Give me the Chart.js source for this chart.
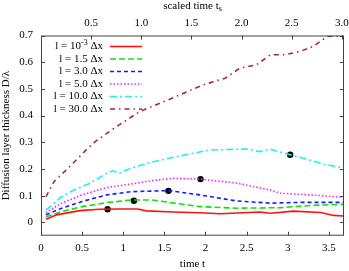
<!DOCTYPE html>
<html>
<head>
<meta charset="utf-8">
<script src="https://cdn.jsdelivr.net/npm/chart.js@4.4.0/dist/chart.umd.min.js"></script>
<style>
  html, body { margin: 0; padding: 0; background: #fff; }
  #wrap { width: 349px; height: 271px; }
</style>
</head>
<body>
<div id="wrap"><canvas id="chart"></canvas></div>
<script>
// values
const redT = [0.06, 0.19, 0.47, 0.71, 0.95, 1.18, 1.28, 1.61, 1.93, 2.18, 2.66, 2.79, 3.07, 3.40, 3.56, 3.68];
const redD = [0.012, 0.028, 0.044, 0.049, 0.050, 0.050, 0.043, 0.039, 0.036, 0.032, 0.039, 0.034, 0.042, 0.037, 0.026, 0.024];

const greenT = [0.06, 0.25, 0.5, 0.8, 1.1, 1.35, 1.6, 1.93, 2.38, 2.91, 3.27, 3.68];
const greenD = [0.021, 0.040, 0.059, 0.074, 0.084, 0.084, 0.073, 0.059, 0.053, 0.055, 0.063, 0.068];

const blueT = [0.06, 0.25, 0.5, 0.8, 1.1, 1.55, 1.93, 2.38, 2.79, 3.19, 3.68];
const blueD = [0.028, 0.053, 0.078, 0.103, 0.115, 0.119, 0.103, 0.080, 0.072, 0.075, 0.075];

const magentaT = [0.06, 0.25, 0.5, 0.8, 1.1, 1.35, 1.6, 1.94, 2.38, 2.79, 2.91, 3.27, 3.68];
const magentaD = [0.036, 0.072, 0.103, 0.130, 0.144, 0.156, 0.165, 0.162, 0.147, 0.121, 0.109, 0.103, 0.094];

const cyanT = [0.06, 0.25, 0.4, 0.6, 0.8, 0.87, 0.95, 1.1, 1.3, 1.6, 2.05, 2.5, 2.66, 2.79, 3.03, 3.19, 3.44, 3.68];
const cyanD = [0.046, 0.096, 0.121, 0.147, 0.184, 0.193, 0.184, 0.203, 0.222, 0.243, 0.271, 0.275, 0.265, 0.274, 0.253, 0.240, 0.218, 0.203];

const brownT = [0.06, 0.16, 0.31, 0.45, 0.56, 0.67, 0.92, 1.20, 1.57, 1.97, 2.24, 2.42, 2.62, 2.79, 2.97, 3.15, 3.31, 3.48, 3.68];
const brownD = [0.096, 0.153, 0.197, 0.240, 0.275, 0.305, 0.359, 0.415, 0.462, 0.515, 0.540, 0.578, 0.590, 0.628, 0.628, 0.640, 0.659, 0.696, 0.700];

const markerT = [0.81, 1.13, 1.55, 1.94, 3.03];
const markerD = [0.049, 0.081, 0.118, 0.162, 0.253];

const timeTicks = [0, 0.5, 1, 1.5, 2, 2.5, 3, 3.5];
const scaledTicks = [0.5, 1.0, 1.5, 2.0, 2.5, 3.0];
const yTicks = [0, 0.1, 0.2, 0.3, 0.4, 0.5, 0.6, 0.7];

// legend: [base, superscript, rest]
const seriesLabels = [
  ["l = 10", "-3", " \u0394x"],
  ["l = 1.5 \u0394x", "", ""],
  ["l = 3.0 \u0394x", "", ""],
  ["l = 5.0 \u0394x", "", ""],
  ["l = 10.0 \u0394x", "", ""],
  ["l = 30.0 \u0394x", "", ""]
];

const FONT = "Liberation Serif";

function pts(t, d) {
  return t.map((v, i) => ({ x: v, y: d[i] }));
}

function line(label, t, d, color, dash) {
  return {
    label: label,
    data: pts(t, d),
    borderColor: color,
    backgroundColor: color,
    borderWidth: 1.6,
    borderDash: dash,
    pointRadius: 0,
    tension: 0,
    fill: false
  };
}

const datasets = [
  line("red", redT, redD, "#ff1010", []),
  line("green", greenT, greenD, "#10e010", [6, 3]),
  line("blue", blueT, blueD, "#1818ff", [4, 3]),
  line("magenta", magentaT, magentaD, "#ff20ff", [1.5, 2]),
  line("cyan", cyanT, cyanD, "#20f0f0", [7, 3, 2, 3]),
  line("brown", brownT, brownD, "#a52a2a", [5, 4, 1.5, 4]),
  {
    label: "markers",
    data: pts(markerT, markerD),
    showLine: false,
    pointRadius: 3.2,
    pointBackgroundColor: "#000",
    pointBorderColor: "#000",
    borderWidth: 0
  }
];

function fixTicks(list) {
  return function (scale) {
    scale.ticks = list.map(v => ({ value: v }));
  };
}

const framePlugin = {
  id: "frame",
  afterDraw(chart) {
    const ctx = chart.ctx;
    const a = chart.chartArea;
    const sx = chart.scales.x, sx2 = chart.scales.x2, sy = chart.scales.y;
    ctx.save();
    ctx.strokeStyle = "#444";
    ctx.lineWidth = 1;
    ctx.strokeRect(a.left + 0.5, a.top + 0.5, a.right - a.left - 1, a.bottom - a.top - 1);
    ctx.beginPath();
    const L = 4;
    timeTicks.forEach(v => {
      const px = Math.round(sx.getPixelForValue(v)) + 0.5;
      ctx.moveTo(px, a.bottom); ctx.lineTo(px, a.bottom - L);
    });
    scaledTicks.forEach(v => {
      const px = Math.round(sx2.getPixelForValue(v)) + 0.5;
      ctx.moveTo(px, a.top); ctx.lineTo(px, a.top + L);
    });
    yTicks.forEach(v => {
      const py = Math.round(sy.getPixelForValue(v)) + 0.5;
      ctx.moveTo(a.left, py); ctx.lineTo(a.left + L, py);
      ctx.moveTo(a.right, py); ctx.lineTo(a.right - L, py);
    });
    ctx.stroke();

    // legend inside the plot
    ctx.fillStyle = "#000";
    ctx.textBaseline = "middle";
    const textRight = 103, lineL = 110, lineR = 142;
    seriesLabels.forEach((lab, i) => {
      const y = 46.5 + i * 12.5;
      ctx.font = "11px '" + FONT + "'";
      const w0 = ctx.measureText(lab[0]).width;
      const w2 = ctx.measureText(lab[2]).width;
      ctx.font = "8px '" + FONT + "'";
      const w1 = lab[1] ? ctx.measureText(lab[1]).width : 0;
      let x = textRight - w0 - w1 - w2;
      ctx.textAlign = "left";
      ctx.font = "11px '" + FONT + "'";
      ctx.fillText(lab[0], x, y);
      x += w0;
      if (lab[1]) {
        ctx.font = "8px '" + FONT + "'";
        ctx.fillText(lab[1], x, y - 4);
        x += w1;
        ctx.font = "11px '" + FONT + "'";
        ctx.fillText(lab[2], x, y);
      }
      const ds = chart.data.datasets[i];
      ctx.strokeStyle = ds.borderColor;
      ctx.lineWidth = 1.6;
      ctx.setLineDash(ds.borderDash);
      ctx.beginPath();
      ctx.moveTo(lineL, y); ctx.lineTo(lineR, y);
      ctx.stroke();
      ctx.setLineDash([]);
    });

    // top title with subscript
    ctx.fillStyle = "#000";
    ctx.font = "11px '" + FONT + "'";
    const t1 = "scaled time t";
    const wt = ctx.measureText(t1).width;
    ctx.font = "8px '" + FONT + "'";
    const ws = ctx.measureText("s").width;
    const cx = (a.left + a.right) / 2;
    let tx = cx - (wt + ws) / 2;
    ctx.textAlign = "left";
    ctx.font = "11px '" + FONT + "'";
    ctx.fillText(t1, tx, 6);
    ctx.font = "8px '" + FONT + "'";
    ctx.fillText("s", tx + wt, 9);
    ctx.restore();
  }
};

Chart.defaults.color = "#000";
Chart.defaults.font.family = FONT;
Chart.defaults.font.size = 11;

new Chart(document.getElementById("chart").getContext("2d"), {
  type: "line",
  data: { datasets: datasets },
  options: {
    responsive: true,
    maintainAspectRatio: false,
    animation: false,
    devicePixelRatio: 1,
    layout: { padding: { top: 0, right: 5, bottom: 0, left: 0 } },
    plugins: { legend: { display: false }, tooltip: { enabled: false } },
    scales: {
      x: {
        type: "linear",
        position: "bottom",
        min: 0,
        max: 3.685,
        afterBuildTicks: fixTicks(timeTicks),
        ticks: { padding: 6, maxRotation: 0, callback: v => String(v) },
        grid: { display: false, drawTicks: false },
        border: { display: false },
        title: { display: true, text: "time t", padding: { top: 2, bottom: 0 } },
        afterFit: s => { s.height = 35.3; s.paddingLeft = 0; s.paddingRight = 0; }
      },
      x2: {
        type: "linear",
        position: "top",
        min: 0,
        max: 3.022,
        afterBuildTicks: fixTicks(scaledTicks),
        ticks: { padding: 6, maxRotation: 0, callback: v => v.toFixed(1) },
        grid: { display: false, drawTicks: false },
        border: { display: false },
        afterFit: s => { s.height = 35.5; s.paddingLeft = 0; s.paddingRight = 0; }
      },
      y: {
        type: "linear",
        min: -0.05,
        max: 0.7,
        afterBuildTicks: fixTicks(yTicks),
        ticks: { padding: 8, callback: v => (v === 0 ? "0" : v.toFixed(1)) },
        grid: { display: false, drawTicks: false },
        border: { display: false },
        title: { display: true, text: "Diffusion layer thickness D/\u03bb", padding: { top: 0, bottom: 0 } },
        afterFit: s => { s.width = 41; s.paddingTop = 0; s.paddingBottom = 0; }
      }
    }
  },
  plugins: [framePlugin]
});
</script>
</body>
</html>
